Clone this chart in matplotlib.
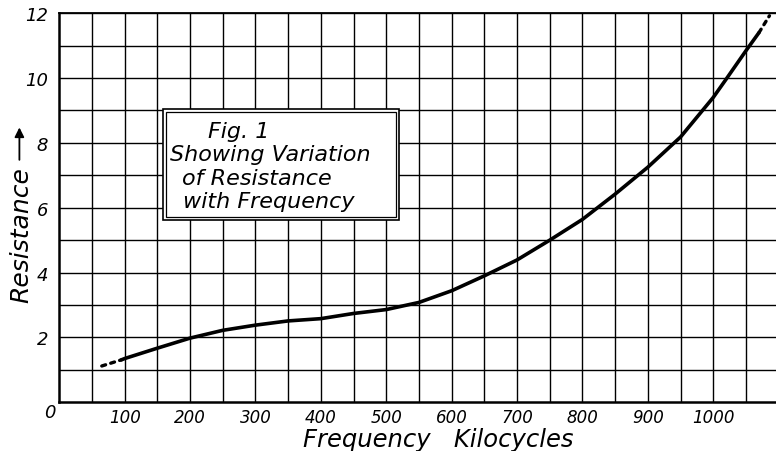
import numpy as np
import matplotlib
matplotlib.use("Agg")
from matplotlib import pyplot as plt
from matplotlib.patches import Rectangle, FancyArrowPatch

# curve (kilocycles, resistance)
freq = [95, 100, 150, 200, 250, 300, 350, 400, 450, 500, 550, 600, 650,
        700, 750, 800, 850, 900, 950, 1000, 1021, 1050, 1070]
res = [1.31, 1.35, 1.67, 1.98, 2.22, 2.38, 2.51, 2.58, 2.74, 2.86, 3.08, 3.44,
       3.9, 4.39, 5.0, 5.64, 6.42, 7.25, 8.18, 9.4, 10.0, 10.84, 11.4]

# dotted extrapolations at both ends
freq_lo = [65, 95]
res_lo = [1.12, 1.31]
freq_hi = [1070, 1086]
res_hi = [11.4, 11.92]

x_labels = [100, 200, 300, 400, 500, 600, 700, 800, 900, 1000]
y_labels = [2, 4, 6, 8, 10, 12]

caption = ["Fig. 1", "Showing Variation", "of Resistance", "with Frequency"]

plt.rcParams['font.family'] = ['DejaVu Sans']
plt.rcParams['font.style'] = 'italic'

fig = plt.figure(figsize=(7.76, 4.52), dpi=100)
ax = fig.add_axes([0.0764, 0.1077, 0.9236, 0.861])

ax.set_xlim(0, 1096)
ax.set_ylim(0, 12)

# grid: every 50 kc and every 1 unit
ax.set_xticks(x_labels)
ax.set_xticks(np.arange(50, 1096, 100), minor=True)
ax.set_yticks(y_labels)
ax.set_yticks(np.arange(1, 12, 2), minor=True)
ax.set_xticklabels([str(v) for v in x_labels], fontsize=12)
ax.set_yticklabels([str(v) for v in y_labels], fontsize=13)
ax.tick_params(which='both', length=0)
ax.tick_params(axis='x', pad=4)
ax.tick_params(axis='y', pad=8)
ax.grid(which='both', color='black', linewidth=1.0, zorder=1)
ax.set_axisbelow(True)

ax.spines['right'].set_visible(False)
ax.spines['left'].set_linewidth(1.8)
ax.spines['bottom'].set_linewidth(1.8)
ax.spines['top'].set_linewidth(1.3)

# the curve
ax.plot(freq, res, color='black', linewidth=2.6, solid_capstyle='round',
        solid_joinstyle='round', zorder=5)
ax.plot(freq_lo, res_lo, color='black', linewidth=2.4, linestyle=(0, (1.2, 1.6)),
        dash_capstyle='round', zorder=5)
ax.plot(freq_hi, res_hi, color='black', linewidth=2.4, linestyle=(0, (1.2, 1.6)),
        dash_capstyle='round', zorder=5, clip_on=False)

# caption box with double border
ax.add_patch(Rectangle((158, 5.63), 362, 3.41, facecolor='white',
                       edgecolor='black', linewidth=1.2, zorder=3))
ax.add_patch(Rectangle((163, 5.72), 352, 3.23, facecolor='none',
                       edgecolor='black', linewidth=0.9, zorder=3))
cap_x = [227, 169, 188, 189]
cap_y = [8.37, 7.65, 6.91, 6.21]
for t, cx, cy in zip(caption, cap_x, cap_y):
    ax.text(cx, cy, t, fontsize=16, ha='left', va='center', zorder=4)

ax.text(-14, -0.3, "0", fontsize=13, ha='center', va='center', clip_on=False)

# axis titles
fig.text(0.565, 0.027, "Frequency   Kilocycles", fontsize=17.5, ha='center', va='center')
fig.text(0.027, 0.48, "Resistance", fontsize=18, rotation=90, ha='center', va='center')
fig.add_artist(FancyArrowPatch(
    (0.025, 0.638), (0.025, 0.722), transform=fig.transFigure,
    arrowstyle='-|>', mutation_scale=14, color='black', linewidth=1.3))

fig.savefig("out.png", dpi=100)
